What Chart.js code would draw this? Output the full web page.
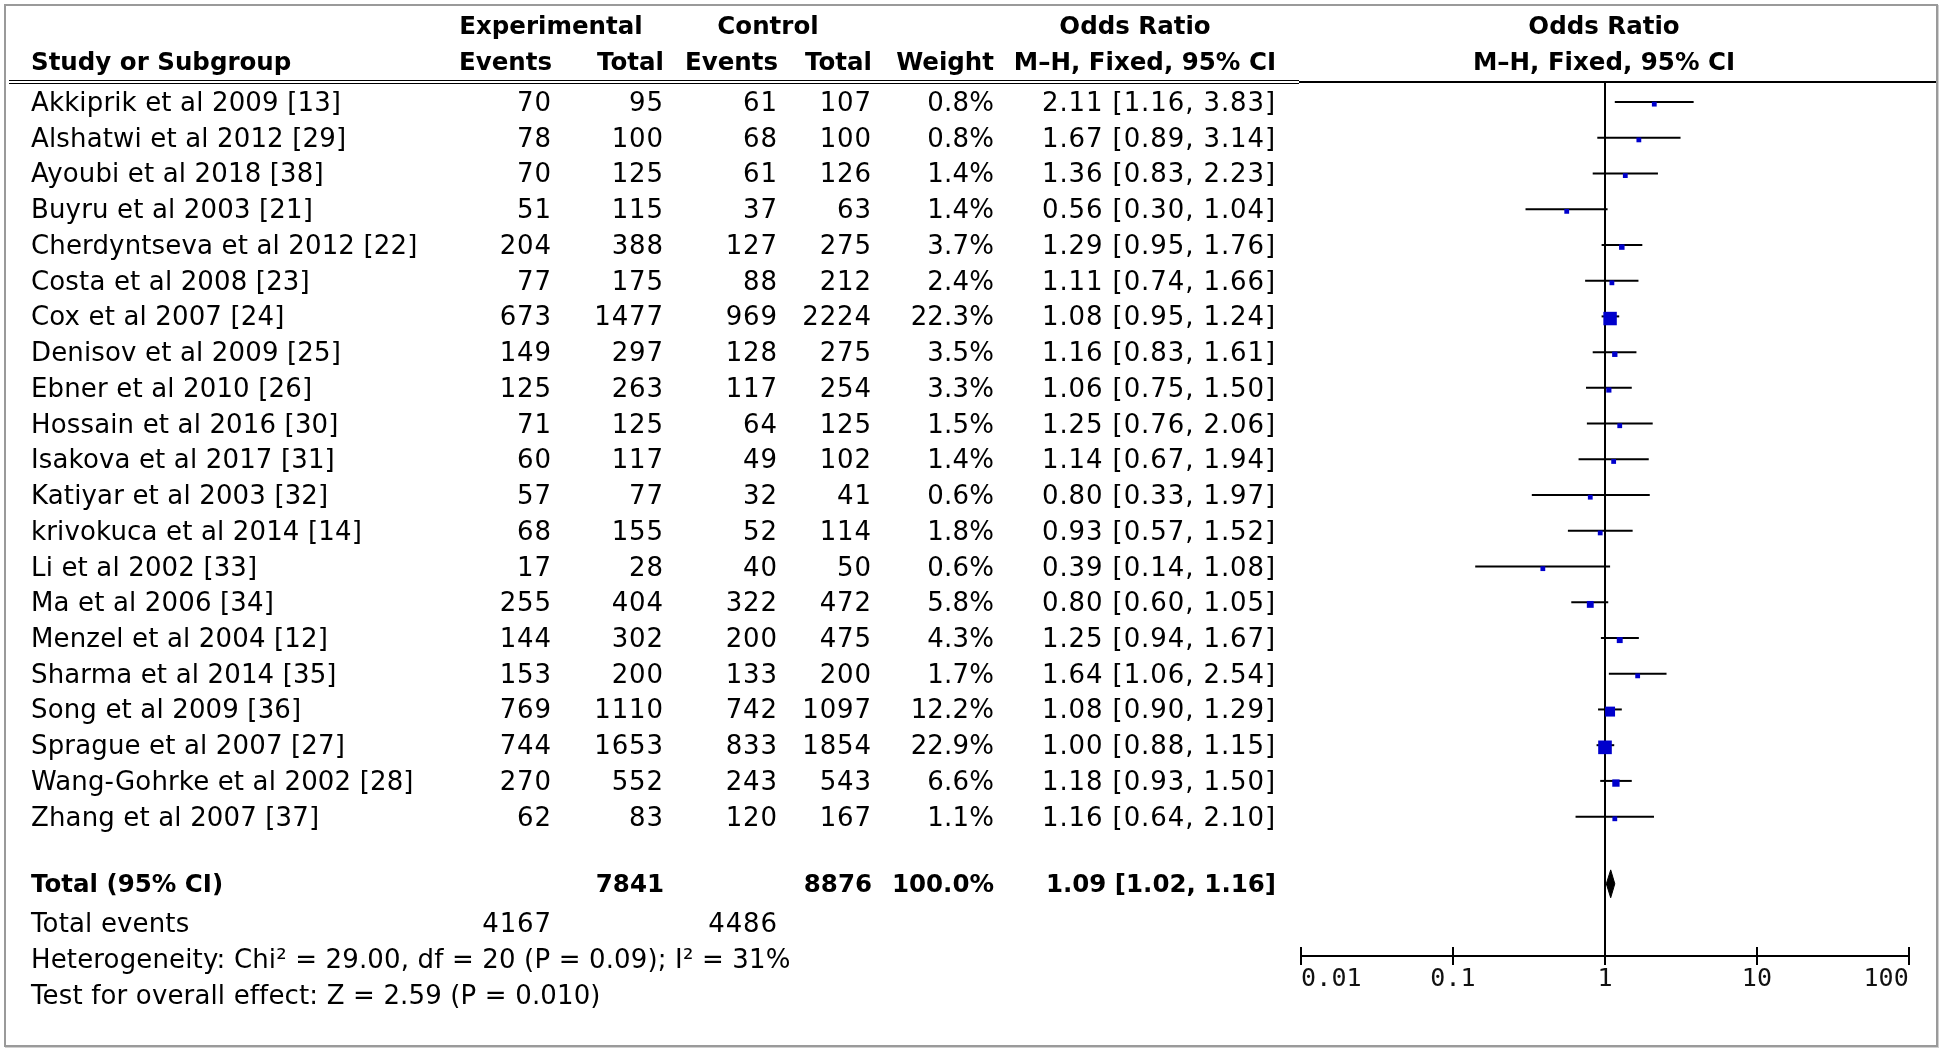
<!DOCTYPE html>
<html>
<head>
<meta charset="utf-8">
<script src="https://cdn.jsdelivr.net/npm/chart.js@4/dist/chart.umd.min.js"></script>
<style>
    html, body { margin: 0; padding: 0; background: #fff; }
    #page { position: relative; width: 1946px; height: 1054px; overflow: hidden;
            font-family: "DejaVu Sans", sans-serif; font-size: 26px; letter-spacing: 0.15px; color: #000; }
    #frame { position: absolute; left: 4px; top: 4px; width: 1930px; height: 1039px;
             border: 2px solid #9a9a9a; box-shadow: 1px 1px 0 #d0d0d0; }
    #forest { position: absolute; left: 0; top: 0; }
    .t { position: absolute; height: 36px; line-height: 36px; white-space: nowrap; }
    .n { letter-spacing: 0.9px; }
    .b { font-weight: bold; font-size: 24.5px; letter-spacing: 0; }
    .hl { position: absolute; background: #000; }
</style>
</head>
<body>
<div id="page">
    <div id="frame"></div>
    <canvas id="forest" width="1946" height="1054"></canvas>
    <div id="txt"></div>
</div>
<script>
// 연구별 데이터
const studies = [
    'Akkiprik et al 2009 [13]', 'Alshatwi et al 2012 [29]', 'Ayoubi et al 2018 [38]',
    'Buyru et al 2003 [21]', 'Cherdyntseva et al 2012 [22]', 'Costa et al 2008 [23]',
    'Cox et al 2007 [24]', 'Denisov et al 2009 [25]', 'Ebner et al 2010 [26]',
    'Hossain et al 2016 [30]', 'Isakova et al 2017 [31]', 'Katiyar et al 2003 [32]',
    'krivokuca et al 2014 [14]', 'Li et al 2002 [33]', 'Ma et al 2006 [34]',
    'Menzel et al 2004 [12]', 'Sharma et al 2014 [35]', 'Song et al 2009 [36]',
    'Sprague et al 2007 [27]', 'Wang-Gohrke et al 2002 [28]', 'Zhang et al 2007 [37]',
];
const expEvents = [70, 78, 70, 51, 204, 77, 673, 149, 125, 71, 60, 57, 68, 17, 255, 144, 153, 769, 744, 270, 62];
const expTotal  = [95, 100, 125, 115, 388, 175, 1477, 297, 263, 125, 117, 77, 155, 28, 404, 302, 200, 1110, 1653, 552, 83];
const ctlEvents = [61, 68, 61, 37, 127, 88, 969, 128, 117, 64, 49, 32, 52, 40, 322, 200, 133, 742, 833, 243, 120];
const ctlTotal  = [107, 100, 126, 63, 275, 212, 2224, 275, 254, 125, 102, 41, 114, 50, 472, 475, 200, 1097, 1854, 543, 167];
const weights   = [0.8, 0.8, 1.4, 1.4, 3.7, 2.4, 22.3, 3.5, 3.3, 1.5, 1.4, 0.6, 1.8, 0.6, 5.8, 4.3, 1.7, 12.2, 22.9, 6.6, 1.1];
const oddsRatio = [2.11, 1.67, 1.36, 0.56, 1.29, 1.11, 1.08, 1.16, 1.06, 1.25, 1.14, 0.80, 0.93, 0.39, 0.80, 1.25, 1.64, 1.08, 1.00, 1.18, 1.16];
const ciLow     = [1.16, 0.89, 0.83, 0.30, 0.95, 0.74, 0.95, 0.83, 0.75, 0.76, 0.67, 0.33, 0.57, 0.14, 0.60, 0.94, 1.06, 0.90, 0.88, 0.93, 0.64];
const ciHigh    = [3.83, 3.14, 2.23, 1.04, 1.76, 1.66, 1.24, 1.61, 1.50, 2.06, 1.94, 1.97, 1.52, 1.08, 1.05, 1.67, 2.54, 1.29, 1.15, 1.50, 2.10];

// 합계
const totalParticipants = [7841, 8876];
const totalEvents = [4167, 4486];
const pooled = [1.09, 1.02, 1.16];
const heterogeneityText = 'Heterogeneity: Chi² = 29.00, df = 20 (P = 0.09); I² = 31%';
const overallText = 'Test for overall effect: Z = 2.59 (P = 0.010)';

// 축
const tickValues = [0.01, 0.1, 1, 10, 100];
const tickLabels = ['0.01', '0.1', '1', '10', '100'];

// 행 위치 (y 값 단위)
const TOP_ROW = -0.56, AXIS_ROW = 23.9, TOTAL_ROW = 21.88;
const FOOT_ROWS = [22.97, 23.98, 24.99];

const sq = (w) => Math.max(4.8, 2.85 * Math.sqrt(w)) / Math.SQRT2;

const ciSets = studies.map((s, i) => ({
    type: 'scatter', showLine: true, order: 2,
    data: [{ x: ciLow[i], y: i }, { x: ciHigh[i], y: i }],
    borderColor: '#000', borderWidth: 2, pointRadius: 0,
}));

const chart = new Chart(document.getElementById('forest'), {
    type: 'scatter',
    data: {
        datasets: [
            {
                order: 0,
                data: oddsRatio.map((v, i) => ({ x: v, y: i + 0.06 })),
                pointStyle: 'rect',
                pointRadius: weights.map(sq),
                backgroundColor: '#0000cc', borderWidth: 0,
            },
            {
                order: 1, showLine: true, fill: 'shape',
                data: [
                    { x: pooled[1], y: TOTAL_ROW }, { x: pooled[0], y: TOTAL_ROW - 0.39 },
                    { x: pooled[2], y: TOTAL_ROW }, { x: pooled[0], y: TOTAL_ROW + 0.39 },
                    { x: pooled[1], y: TOTAL_ROW },
                ],
                borderColor: '#000', backgroundColor: '#000', borderWidth: 1, pointRadius: 0,
            },
            ...ciSets,
            {
                order: 3, showLine: true,
                data: [{ x: 1, y: TOP_ROW }, { x: 1, y: AXIS_ROW }],
                borderColor: '#000', borderWidth: 2, pointRadius: 0,
            },
            {
                order: 3,
                data: tickValues.map(v => ({ x: v, y: AXIS_ROW })),
                pointStyle: 'line', rotation: 90, pointRadius: 9,
                borderColor: '#000', borderWidth: 2,
            },
        ],
    },
    options: {
        responsive: false, animation: false,
        layout: { padding: { left: 1301, right: 37, top: 82, bottom: 54 } },
        plugins: { legend: { display: false }, tooltip: { enabled: false } },
        elements: { line: { tension: 0 } },
        datasets: { scatter: { clip: false } },
        scales: {
            x: {
                type: 'logarithmic', min: 0.01, max: 100, position: 'bottom',
                afterBuildTicks: (s) => { s.ticks = tickValues.map(v => ({ value: v })); },
                afterFit: (s) => { s.height = 44; },
                border: { display: true, color: '#000', width: 2 },
                grid: { display: false },
                ticks: {
                    align: 'inner', padding: 0, color: '#111', autoSkip: false, maxRotation: 0,
                    font: { family: 'DejaVu Sans Mono', size: 25 },
                    callback: (v, i) => tickLabels[i],
                },
            },
            y: { type: 'linear', reverse: true, min: TOP_ROW, max: AXIS_ROW, display: false },
        },
    },
});

// 표 텍스트
const txt = document.getElementById('txt');
function put(text, x, y, align, cls) {
    const d = document.createElement('div');
    d.className = 't' + (cls ? ' ' + cls : '');
    d.textContent = text;
    if (align === 'right') { d.style.left = (x - 600) + 'px'; d.style.width = '600px'; d.style.textAlign = 'right'; }
    else if (align === 'center') { d.style.left = (x - 300) + 'px'; d.style.width = '600px'; d.style.textAlign = 'center'; }
    else d.style.left = x + 'px';
    d.style.top = (y - 18) + 'px';
    txt.appendChild(d);
}
function hline(x, y, w, h) {
    const d = document.createElement('div');
    d.className = 'hl';
    Object.assign(d.style, { left: x + 'px', top: y + 'px', width: w + 'px', height: h + 'px' });
    txt.appendChild(d);
}

const col = { name: 31, ee: 552, et: 664, ce: 778, ct: 872, w: 994, or: 1276 };

put('Experimental', 551, 26, 'center', 'b');
put('Control', 768, 26, 'center', 'b');
put('Odds Ratio', 1135, 26, 'center', 'b');
put('Odds Ratio', 1604, 26, 'center', 'b');
put('Study or Subgroup', col.name, 62, 'left', 'b');
put('Events', col.ee, 62, 'right', 'b');
put('Total', col.et, 62, 'right', 'b');
put('Events', col.ce, 62, 'right', 'b');
put('Total', col.ct, 62, 'right', 'b');
put('Weight', col.w, 62, 'right', 'b');
put('M–H, Fixed, 95% CI', col.or, 62, 'right', 'b');
put('M–H, Fixed, 95% CI', 1604, 62, 'center', 'b');

hline(9, 80, 1290, 1);
hline(9, 83, 1290, 1);
hline(1299, 81, 637, 2);

const ys = chart.scales.y;
studies.forEach((s, i) => {
    const y = ys.getPixelForValue(i);
    put(s, col.name, y, 'left');
    put(String(expEvents[i]), col.ee, y, 'right', 'n');
    put(String(expTotal[i]), col.et, y, 'right', 'n');
    put(String(ctlEvents[i]), col.ce, y, 'right', 'n');
    put(String(ctlTotal[i]), col.ct, y, 'right', 'n');
    put(weights[i].toFixed(1) + '%', col.w, y, 'right');
    put(`${oddsRatio[i].toFixed(2)} [${ciLow[i].toFixed(2)}, ${ciHigh[i].toFixed(2)}]`, col.or, y, 'right', 'n');
});

const yT = ys.getPixelForValue(TOTAL_ROW);
put('Total (95% CI)', col.name, yT, 'left', 'b');
put(String(totalParticipants[0]), col.et, yT, 'right', 'b');
put(String(totalParticipants[1]), col.ct, yT, 'right', 'b');
put('100.0%', col.w, yT, 'right', 'b');
put(`${pooled[0].toFixed(2)} [${pooled[1].toFixed(2)}, ${pooled[2].toFixed(2)}]`, col.or, yT, 'right', 'b');

const yE = ys.getPixelForValue(FOOT_ROWS[0]);
put('Total events', col.name, yE, 'left');
put(String(totalEvents[0]), col.ee, yE, 'right', 'n');
put(String(totalEvents[1]), col.ce, yE, 'right', 'n');
put(heterogeneityText, col.name, ys.getPixelForValue(FOOT_ROWS[1]), 'left');
put(overallText, col.name, ys.getPixelForValue(FOOT_ROWS[2]), 'left');
</script>
</body>
</html>
